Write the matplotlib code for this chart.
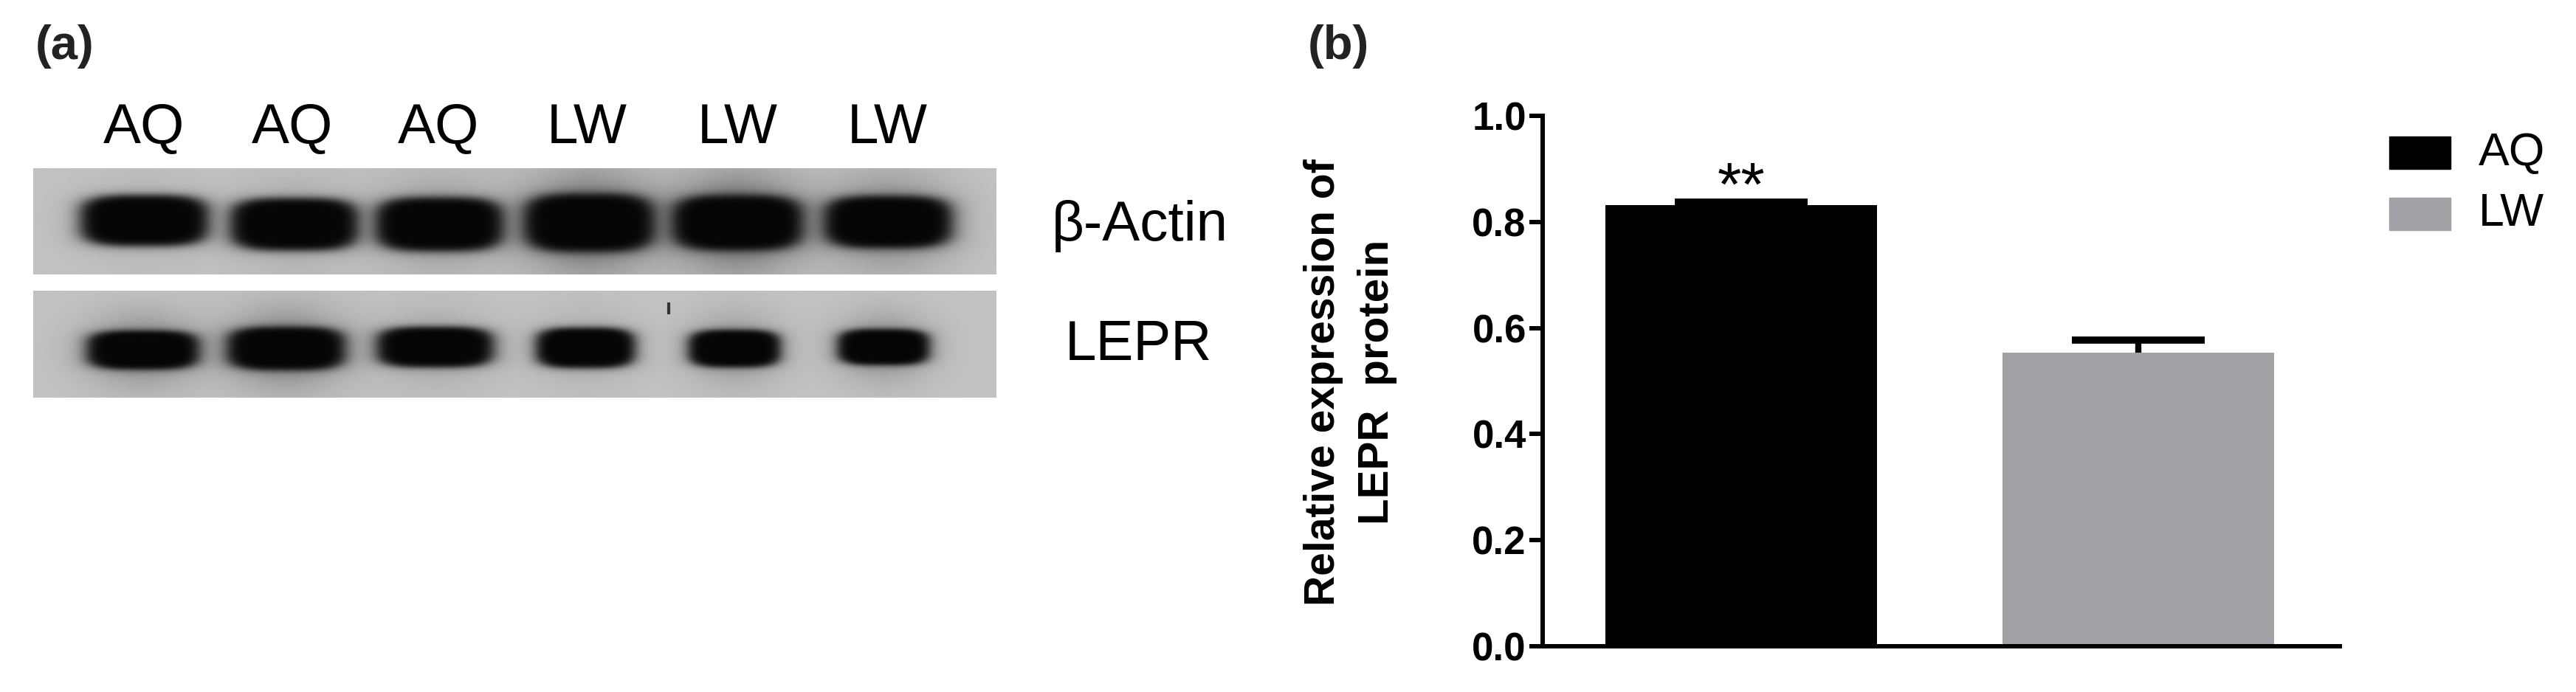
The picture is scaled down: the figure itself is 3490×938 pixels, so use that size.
import matplotlib
matplotlib.use("Agg")
import matplotlib.pyplot as plt
import numpy as np

plt.rcParams['font.family'] = ['Liberation Sans', 'DejaVu Sans']

W, H = 3491, 938

# bar panel values
groups = ["AQ", "LW"]
means = [0.832, 0.553]
errors = [0.005, 0.024]
bar_colors = ["#000000", "#a1a1a6"]
y_ticks = [0.0, 0.2, 0.4, 0.6, 0.8, 1.0]

# blot panel, read in pixels of the picture
lane_labels = ["AQ", "AQ", "AQ", "LW", "LW", "LW"]
lane_label_x = [195, 396, 594, 795, 999, 1202]
actin_x = [195, 398, 595, 798, 999, 1203]
actin_y = [298, 303, 303, 301, 301, 300]
actin_halfw = [88, 88, 88, 90, 90, 88]
actin_halfh = [35, 36, 37, 40, 38, 36]
actin_halo = [0.10, 0.15, 0.25, 0.55, 0.60, 0.40]
lepr_x = [193, 387, 589, 793, 995, 1197]
lepr_y = [474, 472, 470, 471, 472, 470]
lepr_halfw = [77, 81, 80, 68, 63, 63]
lepr_halfh = [27, 30, 28, 28, 26, 25]
lepr_halo = [0.40, 0.45, 0.20, 0.15, 0.30, 0.35]


def px(x, y):
    return x / W, 1 - y / H


def draw_blot(ax, top, bottom, ys, xs, halfw, halfh, halo):
    left, right = 45, 1350
    gx, gy = np.meshgrid(np.arange(left, right, 2.0), np.arange(top, bottom, 2.0))
    img = np.full(gx.shape, 0.76)
    for x, y0, hw, hh, h in zip(xs, ys, halfw, halfh, halo):
        r = ((np.abs(gx - x) / hw) ** 3.5 + (np.abs(gy - y0) / hh) ** 3.5) ** (1 / 3.5)
        core = 1 / (1 + r ** 12)
        glow = h * np.exp(-((gx - x) / (hw * 0.95)) ** 2 - ((gy - y0) / (hh * 1.8)) ** 2)
        img = img * (1 - np.clip(glow, 0, 1) * 0.75)
        img = img * (1 - core) + 0.02 * core
    ax.imshow(img, cmap="gray", vmin=0, vmax=1, extent=(left, right, bottom, top),
              aspect="auto", interpolation="bilinear", zorder=1)


fig = plt.figure(figsize=(W / 100, H / 100), dpi=100)

# whole figure in pixels, for the blot and free text
bg = fig.add_axes([0, 0, 1, 1])
draw_blot(bg, 228, 372, actin_y, actin_x, actin_halfw, actin_halfh, actin_halo)
draw_blot(bg, 394, 539, lepr_y, lepr_x, lepr_halfw, lepr_halfh, lepr_halo)
bg.plot([906, 906], [412, 424], color="#333333", lw=3, zorder=2)
bg.set_xlim(0, W)
bg.set_ylim(H, 0)
bg.axis("off")

for x, label in zip(lane_label_x, lane_labels):
    bg.text(x, 174, label, fontsize=55, ha="center", va="center")
bg.text(1544, 306, "β-Actin", fontsize=55, ha="center", va="center")
bg.text(1542, 468, "LEPR", fontsize=55, ha="center", va="center")
bg.text(88, 63, "(a)", fontsize=47, fontweight="bold", ha="center", va="center", color="#222222")
bg.text(1813, 63, "(b)", fontsize=47, fontweight="bold", ha="center", va="center", color="#222222")
bg.text(1793, 518, "Relative expression of", fontsize=41, fontweight="bold",
        rotation=90, ha="center", va="center")
bg.text(1866, 518, "LEPR  protein", fontsize=42, fontweight="bold",
        rotation=90, ha="center", va="center")

# legend drawn by hand to sit where the original one is
for y, name, c in zip([207, 290], groups, bar_colors):
    bg.add_patch(plt.Rectangle((3237, y - 22), 83, 44, facecolor=c, edgecolor=c, zorder=2))
    bg.text(3358, y, name, fontsize=45, ha="left", va="center")

# bar panel
x0, y1 = px(2090, 876)
x1, y2 = px(3170, 157)
ax = fig.add_axes([x0, y1, x1 - x0, y2 - y1])
ax.patch.set_alpha(0)
ax.bar([0, 1], means, width=0.684, color=bar_colors)
# only the upper half of the error bar, so no cap sits on the bar top
tops = [m + e for m, e in zip(means, errors)]
ax.vlines([0, 1], means, tops, color="black", lw=6)
ax.plot([0, 1], tops, ls="none", marker="_", ms=129, mew=7, color="black")
ax.set_xlim(-0.5, 1.508)
ax.set_ylim(0, 1)
ax.set_xticks([])
ax.set_yticks(y_ticks)
ax.set_yticklabels([f"{t:.1f}" for t in y_ticks], fontsize=38, fontweight="bold")
ax.tick_params(axis="y", width=4.3, length=13, pad=3)
for s in ["top", "right"]:
    ax.spines[s].set_visible(False)
ax.spines["left"].set_linewidth(4.3)
ax.spines["bottom"].set_linewidth(4.3)
ax.text(0, 0.862, "**", fontsize=60, ha="center", va="center")

fig.savefig("out.png", dpi=100)
